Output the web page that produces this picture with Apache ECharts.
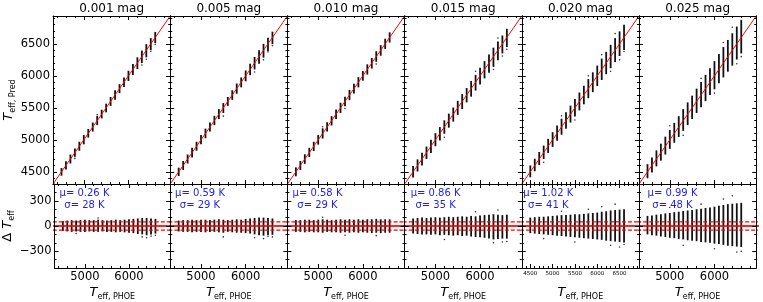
<!DOCTYPE html>
<html><head><meta charset="utf-8">
<script src="https://cdn.jsdelivr.net/npm/echarts@6/dist/echarts.min.js"></script>
<style>html,body{margin:0;padding:0;background:#fff}#c{width:763px;height:302px}</style>
</head><body><div id="c"></div>
<script>
// ---------------- data ----------------
const titles = ['0.001 mag','0.005 mag','0.010 mag','0.015 mag','0.020 mag','0.025 mag'];
const muTexts = ['0.26','0.59','0.58','0.86','1.02','0.99'];
const sigmaTexts = ['28','29','29','35','41','48'];

const teffGrid = [4500,4600,4700,4800,4900,5000,5100,5200,5300,5400,5500,5600,5700,5800,5900,6000,6100,6200,6300,6400,6500,6600];

// residual extents (K) of each strip: upper and lower
const hi1 = [60,65,70,65,70,75,70,70,75,70,65,70,75,70,75,80,85,90,95,95,90,85];
const lo1 = [-60,-65,-70,-65,-70,-70,-65,-70,-70,-65,-70,-70,-75,-70,-75,-80,-85,-95,-100,-110,-100,-90];
const hi2 = [65,70,70,75,70,75,75,70,75,80,75,70,75,80,75,85,90,95,100,100,95,90];
const lo2 = [-65,-70,-70,-75,-70,-70,-75,-70,-70,-75,-80,-70,-75,-80,-80,-85,-90,-100,-110,-115,-110,-105];
const hi3 = [70,70,75,75,70,75,80,75,70,75,80,75,80,75,80,75,80,80,85,80,80,80];
const lo3 = [-70,-70,-75,-70,-75,-75,-80,-70,-75,-75,-80,-75,-80,-75,-80,-75,-80,-85,-80,-85,-80,-80];
const hi4 = [90,95,100,95,100,105,100,105,110,105,110,115,110,120,115,125,130,135,140,135,130,135];
const lo4 = [-90,-95,-100,-100,-105,-100,-110,-105,-110,-115,-110,-120,-115,-125,-130,-135,-140,-150,-160,-155,-150,-150];
const hi5 = [100,105,110,110,115,120,125,130,130,135,140,140,145,150,155,160,170,175,185,190,195,200];
const lo5 = [-85,-90,-95,-100,-105,-110,-115,-120,-125,-130,-135,-140,-145,-150,-155,-160,-165,-175,-180,-185,-190,-195];
const hi6 = [120,125,135,140,150,155,165,170,180,185,190,200,205,215,220,230,240,250,260,265,270,275];
const lo6 = [-100,-110,-115,-125,-130,-140,-145,-155,-160,-170,-175,-180,-190,-195,-200,-210,-215,-225,-235,-240,-245,-250];

// sparse outlying points [Teff_PHOE, residual]
const out1 = [[4800,-90],[5300,95],[6300,-130],[6400,-140],[6500,-120],[6600,-110]];
const out2 = [[5500,-130],[6200,-140],[6400,-150],[6500,-125],[6600,-130]];
const out3 = [[5100,105],[5600,-110],[6300,-115]];
const out4 = [[5200,-160],[5900,170],[6300,-200],[6400,190],[6500,-190],[6600,-185]];
const out5 = [[4800,-150],[5200,175],[5500,-190],[5800,200],[6100,230],[6300,-230],[6400,260],[6500,-250],[6600,-220]];
const out6 = [[5000,220],[5300,-230],[5700,260],[6000,-270],[6200,320],[6400,360],[6500,-310],[6600,-300]];

const refLines = [0, 50, -50];
const topYTicks = [4500,5000,5500,6000,6500];
const botYTicks = [-300,0,300];
const xTicks = [5000,6000];
const xTicks5 = [4500,5000,5500,6000,6500];

// ---------------- layout ----------------
const his = [hi1,hi2,hi3,hi4,hi5,hi6];
const los = [lo1,lo2,lo3,lo4,lo5,lo6];
const outs = [out1,out2,out3,out4,out5,out6];
const xLim = [4310,6935];
const topY = [4310,6935];
const botY = [-500,500];
const L = 53, W = 117.2, T1 = 16, H1 = 168, T2 = 184, H2 = 84.3;
const textOff = [31.5,29.8,30.1,31,26.5,33.5];
const FONT = 'DejaVu Sans';

function range(a,b,s){const r=[];for(let v=a;v<=b+1e-9;v+=s)r.push(v);return r;}
function minors(a,b,s,majors){return range(a,b,s).filter(v=>majors.indexOf(v)<0);}
const fmt = v => v<0 ? '\u2212'+Math.abs(v) : String(v);

const option = {animation:false, backgroundColor:'#fff', grid:[], xAxis:[], yAxis:[], series:[], title:[], graphic:[]};

function axis(kind, g, mn, mx, pos, ticks, len, showLine, label, extra){
  const a = {type:'value', gridIndex:g, min:mn, max:mx, position:pos,
    axisLine:{show:showLine, onZero:false, lineStyle:{color:'#000', width:1}},
    axisTick:{show:true, inside:true, length:len, customValues:ticks.filter(v=>v>=mn&&v<=mx), lineStyle:{color:'#000', width:1}},
    axisLabel:{show:false}, splitLine:{show:false}, splitArea:{show:false}, z:5};
  if (label){
    a.axisLabel = {show:true, customValues:ticks.filter(v=>v>=mn&&v<=mx), margin:3, color:'#000', fontFamily:FONT, fontSize:label.fontSize, formatter:fmt, hideOverlap:false};
  }
  Object.assign(a, extra||{});
  option[kind].push(a);
  return option[kind].length-1;
}

const subRich = () => ({
  t:{fontSize:13, fontStyle:'italic', fontFamily:FONT, color:'#000', lineHeight:14, verticalAlign:'top'},
  s:{fontSize:8, fontFamily:FONT, color:'#000', lineHeight:9, padding:[7,0,0,0], verticalAlign:'top'},
  n:{fontSize:13, fontFamily:FONT, color:'#000', lineHeight:14, verticalAlign:'top'}
});

for (let c=0;c<6;c++){
  const left = L + c*W;
  const xm = c===4 ? xTicks5 : xTicks;
  const xmin = c===4 ? minors(4300,6900,100,xm) : minors(4200,7000,200,xm);
  const labFont = c===4 ? 5.5 : 11.5;
  for (let p=0;p<2;p++){
    const g = option.grid.length;
    option.grid.push({left:left, top:p===0?T1:T2, width:W, height:p===0?H1:H2, containLabel:false});
    const yr = p===0 ? topY : botY;
    const ym = p===0 ? topYTicks : botYTicks;
    const ymin = p===0 ? minors(4300,7000,100,ym) : minors(-500,500,100,ym);
    const xExtra = (p===1) ? {name:'{t|T}{s|eff, PHOE}', nameLocation:'middle', nameGap:18,
      nameTextStyle:{rich:subRich()}} : {};
    const xi = axis('xAxis', g, xLim[0], xLim[1], 'bottom', xm, 4, true, p===1?{fontSize:labFont}:null, xExtra);
    axis('xAxis', g, xLim[0], xLim[1], 'bottom', xmin, 2, false, null);
    axis('xAxis', g, xLim[0], xLim[1], 'top', xm, 4, true, null);
    axis('xAxis', g, xLim[0], xLim[1], 'top', xmin, 2, false, null);
    let yExtra = {};
    if (c===0){
      yExtra = {name: p===0 ? '{t|T}{s|eff, Pred}' : '{n|Δ }{t|T}{s|eff}', nameLocation:'middle', nameGap: p===0?24:26,
        nameTextStyle:{rich:subRich()}};
    }
    const yi = axis('yAxis', g, yr[0], yr[1], 'left', ym, 4, true, c===0?{fontSize:11.5}:null, yExtra);
    axis('yAxis', g, yr[0], yr[1], 'left', ymin, 2, false, null);
    axis('yAxis', g, yr[0], yr[1], 'right', ym, 4, true, null);
    axis('yAxis', g, yr[0], yr[1], 'right', ymin, 2, false, null);

    const hi = his[c], lo = los[c];
    const stripData = teffGrid.map((t,k)=> p===0 ? [t, t+lo[k], t+hi[k]] : [t, lo[k], hi[k]]);
    option.series.push({type:'custom', xAxisIndex:xi, yAxisIndex:yi, data:stripData, z:2,
      renderItem:(params, api)=>{
        const a = api.coord([api.value(0), api.value(1)]);
        const b = api.coord([api.value(0), api.value(2)]);
        return {type:'rect', shape:{x:a[0]-0.9, y:b[1], width:1.8, height:a[1]-b[1]}, style:{fill:'#111'}};
      }});
    option.series.push({type:'scatter', xAxisIndex:xi, yAxisIndex:yi, symbolSize:1.6, z:2,
      itemStyle:{color:'#000'}, silent:true,
      data: outs[c].map(d=> p===0 ? [d[0], d[0]+d[1]] : [d[0], d[1]])});
    if (p===0){
      // one-to-one line
      option.series.push({type:'line', xAxisIndex:xi, yAxisIndex:yi, symbol:'none', clip:true, z:3,
        lineStyle:{color:'#ff0000', width:1}, data:[[4000,4000],[7200,7200]]});
    } else {
      refLines.forEach(v=>{
        option.series.push({type:'line', xAxisIndex:xi, yAxisIndex:yi, symbol:'none', clip:true, z:3,
          lineStyle:{color:'#ff0000', width: v===0?1.8:1.2, type: v===0?'solid':[4,2], opacity: v===0?0.85:1},
          data:[[4000,v],[7200,v]]});
      });
    }
  }
  option.title.push({text:titles[c], left:left+W/2, top:3, padding:0, textAlign:'center',
    textStyle:{fontFamily:FONT, fontSize:12, fontWeight:'normal', color:'#000'}});
  option.graphic.push({type:'text', x:left+textOff[c], y:187.5, z:10,
    style:{text:'μ= '+muTexts[c]+' K\nσ= '+sigmaTexts[c]+' K', fill:'#1f1fe6', font:'10px "DejaVu Sans"',
      textAlign:'center', textVerticalAlign:'top', lineHeight:11.7}});
}

const chart = echarts.init(document.getElementById('c'), null, {renderer:'canvas'});
chart.setOption(option);
</script></body></html>
